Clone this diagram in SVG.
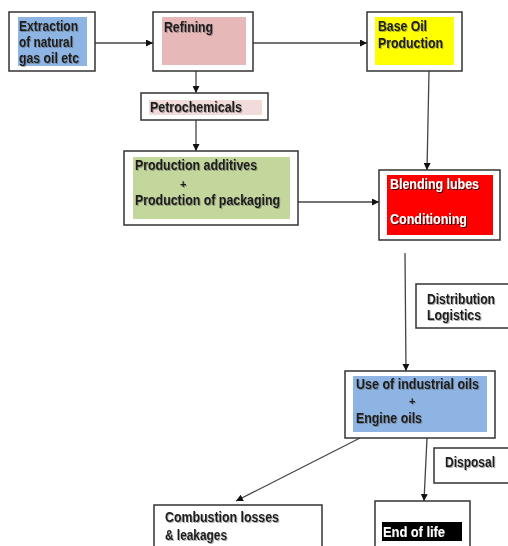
<svg xmlns="http://www.w3.org/2000/svg" width="508" height="546" viewBox="0 0 508 546">
<defs>
<filter id="sh" x="-10%" y="-20%" width="130%" height="160%">
<feDropShadow dx="1" dy="1" stdDeviation="0.3" flood-color="#555" flood-opacity="0.5"/>
</filter>
<filter id="shd" x="-10%" y="-20%" width="130%" height="160%">
<feDropShadow dx="1" dy="1" stdDeviation="0.3" flood-color="#000" flood-opacity="0.8"/>
</filter>
<marker id="ah" viewBox="0 0 10 10" refX="10" refY="5" markerWidth="7" markerHeight="7" markerUnits="userSpaceOnUse" orient="auto">
<path d="M0,0 L10,5 L0,10 z" fill="#111"/>
</marker>
</defs>
<style>
.box{fill:#fff;stroke:#333;stroke-width:1.5}
.t{font-family:"Liberation Sans",Arial,sans-serif;font-weight:bold;font-size:14px;fill:#1a1a1a;filter:url(#sh)}
.w{fill:#fff;filter:url(#shd)}
.p{font-size:11px}
.ca{fill:none;stroke:#444;stroke-width:1.3;marker-end:url(#ah)}
</style>
<rect width="508" height="546" fill="#fff"/>
<g id="connectors">
<line class="ca" x1="95" y1="43" x2="153" y2="43"/>
<line class="ca" x1="253" y1="43" x2="367" y2="43"/>
<line class="ca" x1="196" y1="71" x2="196" y2="93"/>
<line class="ca" x1="196" y1="120" x2="196" y2="151"/>
<line class="ca" x1="429" y1="71" x2="427" y2="170"/>
<line class="ca" x1="298" y1="202" x2="379" y2="202"/>
<line class="ca" x1="405" y1="253" x2="406" y2="371"/>
<line class="ca" x1="360" y1="438" x2="236" y2="501"/>
<line class="ca" x1="427" y1="438" x2="424" y2="501"/>
</g>
<g id="extraction">
<rect class="box" x="9" y="12" width="86" height="59"/>
<rect x="18" y="17" width="69" height="49" fill="#8EB4E3"/>
<text class="t" x="19" y="31" textLength="59" lengthAdjust="spacingAndGlyphs">Extraction</text>
<text class="t" x="19" y="47" textLength="54" lengthAdjust="spacingAndGlyphs">of natural</text>
<text class="t" x="19" y="63" textLength="60" lengthAdjust="spacingAndGlyphs">gas oil etc</text>
</g>
<g id="refining">
<rect class="box" x="153" y="12" width="100" height="59"/>
<rect x="162" y="17" width="84" height="48" fill="#E6B8B7"/>
<text class="t" x="164" y="32" textLength="49" lengthAdjust="spacingAndGlyphs">Refining</text>
</g>
<g id="baseoil">
<rect class="box" x="367" y="12" width="95" height="59"/>
<rect x="375" y="17" width="79" height="48" fill="#FFFF00"/>
<text class="t" x="378" y="31" textLength="49" lengthAdjust="spacingAndGlyphs">Base Oil</text>
<text class="t" x="378" y="48" textLength="65" lengthAdjust="spacingAndGlyphs">Production</text>
</g>
<g id="petrochemicals">
<rect class="box" x="141" y="93" width="127" height="27"/>
<rect x="149" y="100" width="113" height="15" fill="#F2DCDB"/>
<text class="t" x="150" y="112" textLength="92" lengthAdjust="spacingAndGlyphs">Petrochemicals</text>
</g>
<g id="production">
<rect class="box" x="124" y="151" width="174" height="74"/>
<rect x="133" y="157" width="157" height="62" fill="#C3D69B"/>
<text class="t" x="135" y="170" textLength="122" lengthAdjust="spacingAndGlyphs">Production additives</text>
<text class="t p" x="180" y="188">+</text>
<text class="t" x="135" y="205" textLength="145" lengthAdjust="spacingAndGlyphs">Production of packaging</text>
</g>
<g id="blending">
<rect class="box" x="379" y="170" width="121" height="70"/>
<rect x="387" y="175" width="106" height="60" fill="#FF0000"/>
<text class="t w" x="390" y="189" textLength="89" lengthAdjust="spacingAndGlyphs">Blending lubes</text>
<text class="t w" x="390" y="224" textLength="77" lengthAdjust="spacingAndGlyphs">Conditioning</text>
</g>
<g id="distribution">
<rect class="box" x="416" y="284" width="100" height="44"/>
<text class="t" x="427" y="304" textLength="68" lengthAdjust="spacingAndGlyphs">Distribution</text>
<text class="t" x="427" y="320" textLength="54" lengthAdjust="spacingAndGlyphs">Logistics</text>
</g>
<g id="use">
<rect class="box" x="345" y="371" width="150" height="67"/>
<rect x="353" y="376" width="134" height="56" fill="#8EB4E3"/>
<text class="t" x="356" y="389" textLength="123" lengthAdjust="spacingAndGlyphs">Use of industrial oils</text>
<text class="t p" x="409" y="405">+</text>
<text class="t" x="356" y="423" textLength="66" lengthAdjust="spacingAndGlyphs">Engine oils</text>
</g>
<g id="disposal">
<rect class="box" x="434" y="448" width="80" height="35"/>
<text class="t" x="445" y="467" textLength="50" lengthAdjust="spacingAndGlyphs">Disposal</text>
</g>
<g id="endoflife">
<rect class="box" x="375" y="501" width="95" height="60"/>
<rect x="382" y="522" width="80" height="19" fill="#000"/>
<text class="t w" x="383" y="537" textLength="62" lengthAdjust="spacingAndGlyphs">End of life</text>
</g>
<g id="combustion">
<rect class="box" x="154" y="505" width="168" height="60"/>
<text class="t" x="165" y="522" textLength="114" lengthAdjust="spacingAndGlyphs">Combustion losses</text>
<text class="t" x="165" y="540" textLength="62" lengthAdjust="spacingAndGlyphs">&amp; leakages</text>
</g>
</svg>
